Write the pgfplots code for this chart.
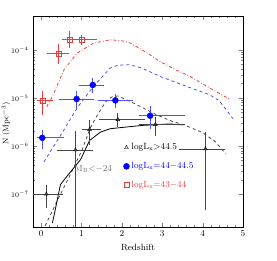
\documentclass[border=0pt]{standalone}
\usepackage{pgfplots}
\pgfplotsset{compat=1.18}
\definecolor{myred}{RGB}{235,60,60}
\definecolor{myblue}{RGB}{0,0,255}
\definecolor{lblue}{RGB}{80,80,255}
\definecolor{dgray}{RGB}{70,70,70}
\definecolor{tgray}{RGB}{110,110,110}
\begin{document}
\begin{tikzpicture}
\begin{axis}[name=ax, at={(0pt,0pt)}, anchor=south west,
  scale only axis, width=210pt, height=211pt,
  ymode=log, xmin=-0.2, xmax=5, ymin=2.07e-8, ymax=5.06e-4,
  xtick={0,1,2,3,4,5}, minor x tick num=4,
  ytick={1e-7,1e-6,1e-5,1e-4},
  tick align=inside, tick pos=both,
  major tick length=4pt, minor tick length=2pt,
  xlabel={Redshift}, ylabel={N (Mpc$^{-3}$)},
  xticklabel style={font=\small},
  yticklabel style={font=\scriptsize, xshift=-1pt},
  label style={font=\small},
  xlabel style={at={(axis description cs:0.5,-0.095)}, anchor=center},
  ylabel style={font=\footnotesize, at={(axis description cs:-0.128,0.49)}, anchor=center},
  legend style={draw=none, fill=none, at={(0.43,0.405)}, anchor=north west, font=\small, row sep=7pt, inner sep=0pt},
  legend cell align=left,
]
% curves
\addplot[myred, thick, dash dot, forget plot] coordinates {
(0.14,6.6e-6)(0.28,1.07e-5)(0.57,3.89e-5)(0.89,8.51e-5)(1.30,1.38e-4)(1.71,1.62e-4)(2.0,1.55e-4)(2.21,1.38e-4)(2.6,8.9e-5)(2.94,5.75e-5)(3.3,3.98e-5)(3.68,2.82e-5)(4.17,1.62e-5)(4.66,9.5e-6)};
\addplot[lblue, thick, dashed, forget plot] coordinates {
(0.07,4.68e-7)(0.57,2.19e-6)(0.89,6.17e-6)(1.30,1.74e-5)(1.71,4.17e-5)(1.9,4.79e-5)(2.2,4.9e-5)(2.5,4.17e-5)(2.94,2.82e-5)(3.6,1.74e-5)(4.17,1.17e-5)(4.4,8.9e-6)(4.58,5.75e-6)(4.75,3.72e-6)};
\addplot[dgray, thick, dashed, forget plot] coordinates {
(0.1,2.19e-8)(0.44,8.5e-8)(0.75,2.82e-7)(1.02,8.5e-7)(1.22,2.4e-6)(1.35,3.8e-6)(1.47,5.6e-6)(1.6,8.3e-6)(1.75,1.05e-5)(1.9,1.1e-5)(2.2,8.5e-6)(2.53,6.17e-6)(2.86,4.47e-6)(3.19,3.39e-6)(3.6,2.63e-6)(4.0,1.9e-6)(4.3,1.26e-6)(4.58,6.8e-7)};
\addplot[black, thick, forget plot] coordinates {
(0.28,2.5e-8)(0.32,3.55e-8)(0.48,1.58e-7)(0.65,2.4e-7)(0.98,5.25e-7)(1.2,1.3e-6)(1.47,1.95e-6)(1.71,2.29e-6)(2.04,2.45e-6)(2.53,2.69e-6)(3.19,2.88e-6)(3.5,2.75e-6)};
% data
\addplot[only marks, mark=triangle, mark size=2.2pt, black, mark options={solid},
  error bars/.cd, x dir=both, x explicit, y dir=both, y explicit,
  error bar style={dgray, thick}, error mark options={dgray, thick, mark size=3pt}] coordinates {
(0.13,1.0e-7) += (0.35,3.2e-8) -= (0.26,4.1e-8)
(0.85,8.3e-7) += (0.35,9.1e-7) -= (0.37,8.2e-7)
(1.20,2.2e-6) += (0.21,8e-7) -= (0.10,1.0e-6)
(1.90,3.55e-6) += (0.61,6e-7) -= (0.39,6.5e-7)
(2.83,2.8e-6) += (0.67,7e-7) -= (0.32,9e-7)
(4.07,8.7e-7) += (0.41,7.9e-7) -= (0.57,8.15e-7)};
\addlegendentry{logL$_{\mathrm{x}}$>44.5}
\addplot[only marks, mark=*, mark size=3pt, myblue,
  error bars/.cd, x dir=both, x explicit, y dir=both, y explicit,
  error bar style={lblue, thick}, error mark options={lblue, thick, mark size=3pt}] coordinates {
(0.03,1.48e-6) += (0.47,4.2e-7) -= (0.05,4.8e-7)
(0.88,9.5e-6) += (0.36,2.5e-6) -= (0.37,3.0e-6)
(1.28,1.86e-5) += (0.21,4.3e-6) -= (0.26,3.8e-6)
(1.84,8.9e-6) += (0.36,1.8e-6) -= (0.35,1.7e-6)
(2.70,4.27e-6) += (0.80,1.6e-6) -= (0.19,1.6e-6)};
\addlegendentry{\textcolor{myblue}{logL$_{\mathrm{x}}$=44$-$44.5}}
\addplot[only marks, mark=square, mark size=2.5pt, myred,
  error bars/.cd, x dir=both, x explicit, y dir=both, y explicit,
  error bar style={myred, thick}, error mark options={myred, thick, mark size=3pt}] coordinates {
(0.04,8.91e-6) += (0.17,3.4e-6) -= (0.07,3.9e-6)
(0.44,8.5e-5) += (0.17,2.7e-5) -= (0.22,2.6e-5)
(0.71,1.66e-4) += (0.09,4.3e-5) -= (0.12,4.0e-5)
(1.0,1.62e-4) += (0.30,1.5e-5) -= (0.19,1.5e-5)};
\addlegendentry{\textcolor{myred}{logL$_{\mathrm{x}}$=43$-$44}}
\node[anchor=west, inner sep=0pt, tgray, font=\small] at (axis cs:0.82,3.3e-7) {M$_{\mathrm{B}}$<$-$24};
\end{axis}
\pgfresetboundingbox
\path[use as bounding box] (-33pt,-34pt) rectangle (244pt,227pt);
\end{tikzpicture}
\end{document}
